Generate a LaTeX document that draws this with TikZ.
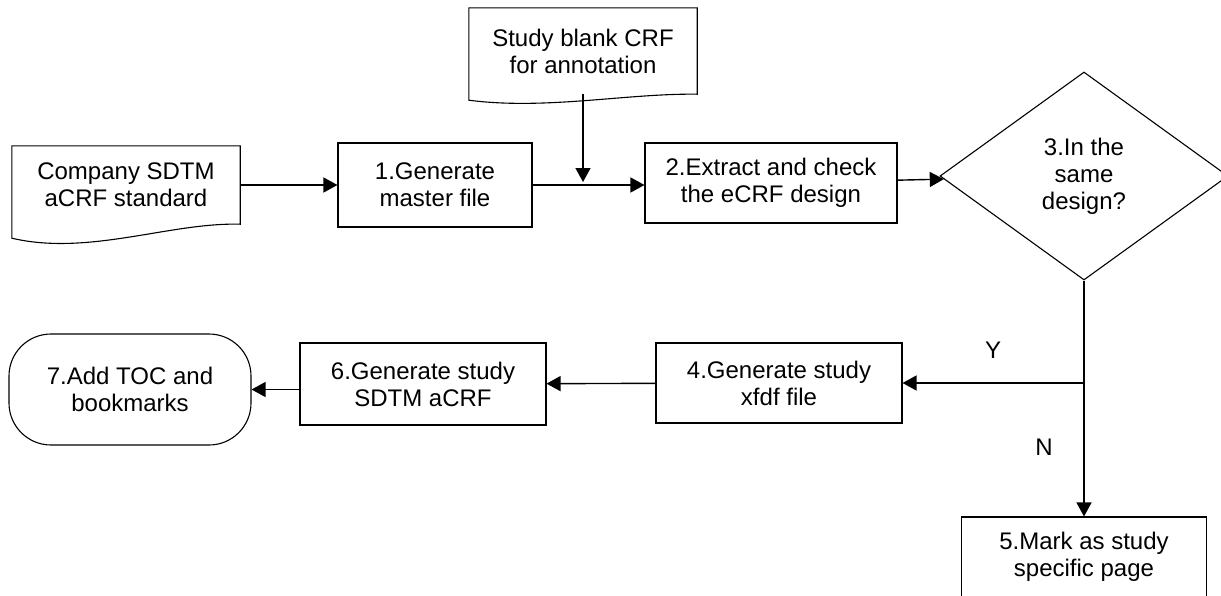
\documentclass[tikz,border=0pt]{standalone}
\usepackage{fontspec}
\setmainfont{Liberation Sans}
\usetikzlibrary{shapes.geometric}
\usetikzlibrary{arrows.meta}
\tikzset{x=1pt, y=-1pt,
every node/.style={ % Text of all nodes
font=\fontsize{24}{27}\selectfont,
align=center,
inner sep=0pt},
process/.style={ % Plain step boxes
draw,
line width=1.1pt,
minimum height=80pt},
docnode/.style={ % Document shapes, outline is drawn by hand
minimum width=228pt},
decision/.style={ % Yes/no question
diamond,
draw,
line width=1.1pt,
minimum width=288pt,
minimum height=208pt},
terminal/.style={ % Last step
draw,
rounded corners=42pt,
line width=1.1pt,
minimum width=242pt,
minimum height=111pt},
>={Triangle[length=14pt,width=15pt]},
flow/.style={ % Connectors
line width=1.4pt,
->}}

\begin{document}
\begin{tikzpicture}
	\useasboundingbox (0,0) rectangle (1221,595);
	\node[docnode, minimum height=78pt] (std) at (126,185) {Company SDTM\\aCRF standard};
	\draw[line width=1.1pt] (std.north west) -- (std.north east) -- (std.south east) .. controls +(-70,-2) and +(77,18) .. ([yshift=-14pt]std.south west) -- cycle;
	\node[docnode, minimum height=86pt] (study) at (583,51) {Study blank CRF\\for annotation};
	\draw[line width=1.1pt] (study.north west) -- (study.north east) -- (study.south east) .. controls +(-70,-1) and +(77,10) .. ([yshift=-6pt]study.south west) -- cycle;
	\node[process, minimum width=194pt, minimum height=84pt] (box1) at (435,185) {1.Generate\\master file};
	\node[process, minimum width=252pt] (box2) at (771,183) {2.Extract and check\\the eCRF design};
	\node[decision] (dec) at (1084,176) {3.In the\\same\\design?};
	\node[process, minimum width=246pt] (box4) at (779,383) {4.Generate study\\xfdf file};
	\node[process, minimum width=245pt] (box5) at (1084,557) {5.Mark as study\\specific page};
	\node[process, minimum width=246pt, minimum height=82pt] (box6) at (423,384) {6.Generate study\\SDTM aCRF};
	\node[terminal] (term) at (130,389.5) {7.Add TOC and\\bookmarks};
	\node (yes) at (993,350) {Y};
	\node (no) at (1044,447) {N};
	\coordinate (join) at (583,182);
	\coordinate (split) at (dec.south |- box4.east);
	\draw[flow] (std) -- (box1);
	\draw[flow] (box1.east) -- (box1.east -| box2.west);
	\draw[flow] (study) -- (join);
	\draw[flow] (box2) -- (dec);
	\draw[line width=1.4pt] (dec.south) -- (split);
	\draw[flow] (split) -- (box4);
	\draw[flow] (split) -- (box5);
	\draw[flow] (box4) -- (box6);
	\draw[flow] (box6.west |- term.east) -- (term.east);
\end{tikzpicture}
\end{document}
